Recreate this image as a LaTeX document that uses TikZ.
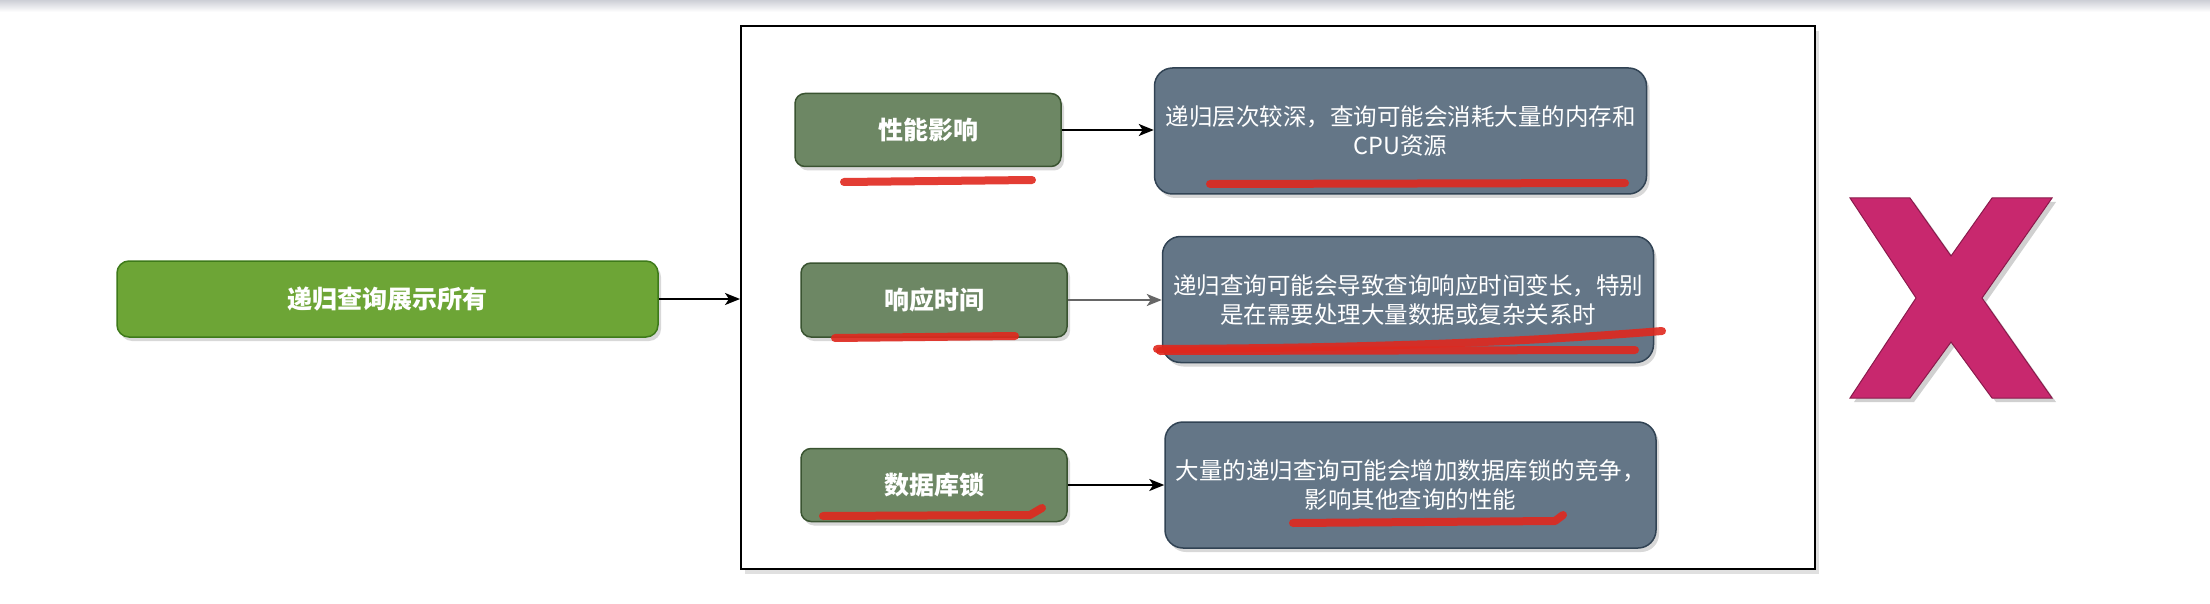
\documentclass[tikz,border=0pt]{standalone}
\usepackage{fontspec}
\setmainfont{Noto Sans CJK SC}
\usetikzlibrary{arrows.meta,shadows}
\definecolor{mgreen}{HTML}{6DA536}
\definecolor{mgreenD}{HTML}{3E7A1A}
\definecolor{olivef}{HTML}{6D8764}
\definecolor{oliveD}{HTML}{3A5431}
\definecolor{slatef}{HTML}{647687}
\definecolor{slateD}{HTML}{314354}
\definecolor{xpink}{HTML}{C8286E}
\definecolor{xpinkD}{HTML}{8A1A4C}
\definecolor{redmark}{HTML}{E0281E}
\definecolor{topgray}{HTML}{CDCFD6}
\tikzset{
  shad/.style={drop shadow={shadow xshift=3pt,shadow yshift=-4pt,opacity=0.25,fill=black!60}},
  mainbox/.style={draw=mgreenD,line width=1.5,fill=mgreen,rounded corners=12,
    minimum width=541,minimum height=76,text=white,shad,
    font=\fontsize{25}{30}\selectfont\bfseries},
  topicbox/.style={draw=oliveD,line width=1.5,fill=olivef,rounded corners=10,
    minimum width=266,minimum height=73,text=white,shad,
    font=\fontsize{25}{30}\selectfont\bfseries},
  descbox/.style={draw=slateD,line width=1.5,fill=slatef,rounded corners=18,
    minimum width=492,minimum height=126,text=white,shad,align=center,
    font=\fontsize{23.5}{29}\selectfont},
  framebox/.style={draw=black,line width=2,fill=white,minimum width=1074,minimum height=543,
    drop shadow={shadow xshift=4pt,shadow yshift=-5pt,opacity=0.2,fill=black!60}},
  conn/.style={line width=2,-{Stealth[length=15,width=12,inset=4]}},
  scribble/.style={redmark,line width=8,line cap=round,line join=round,opacity=0.9},
}
\begin{document}
\begin{tikzpicture}[x=1pt,y=-1pt]
\useasboundingbox (0,0) rectangle (2210,604);
\fill[white] (0,0) rectangle (2210,604);
\shade[top color=topgray,bottom color=white] (0,0) rectangle (2210,12);

\node[framebox] (cont) at (1278,297.5) {};

\node[mainbox] (main) at (387.5,299) {递归查询展示所有};

\node[topicbox] (p1) at (928,130) {性能影响};
\node[descbox] (g1) at (1400.5,131) {递归层次较深，查询可能会消耗大量的内存和\\CPU资源};

\node[topicbox,minimum width=266,minimum height=74] (p2) at (934,300) {响应时间};
\node[descbox,minimum width=491] (g2) at (1408,299.5) {递归查询可能会导致查询响应时间变长，特别\\是在需要处理大量数据或复杂关系时};

\node[topicbox] (p3) at (934,485) {数据库锁};
\node[descbox,minimum width=491] (g3) at (1410.5,485) {大量的递归查询可能会增加数据库锁的竞争，\\影响其他查询的性能};

\draw[conn] (main.east) -- (main.east -| cont.west);
\draw[conn] (p1.east) -- (g1.west |- p1.east);
\draw[conn,draw=black!60] (p2.east) -- (g2.west |- p2.east);
\draw[conn] (p3.east) -- (g3.west |- p3.east);

% red hand-drawn underlines
\draw[scribble] (844,182) -- (1032,180);
\draw[scribble] (1210,184) -- (1625,183);
\draw[scribble] (835,338) -- (1015,336);
\draw[scribble] (1157,349) .. controls (1400,348) and (1550,340) .. (1662,331);
\draw[scribble] (1160,351) -- (1635,350);
\draw[scribble] (823,516) -- (1030,515) -- (1042,508);
\draw[scribble] (1293,523) -- (1555,521) -- (1563,515);

% big X
\draw[xpinkD,line width=1,fill=xpink,
  drop shadow={shadow xshift=4pt,shadow yshift=-4pt,opacity=0.3,fill=black!60}]
  (1850,198) -- (1910,198) -- (1951,256) -- (1992,198) -- (2052,198) -- (1982,298)
  -- (2052,398) -- (1992,398) -- (1951,342) -- (1910,398) -- (1850,398) -- (1916,298) -- cycle;
\end{tikzpicture}
\end{document}
